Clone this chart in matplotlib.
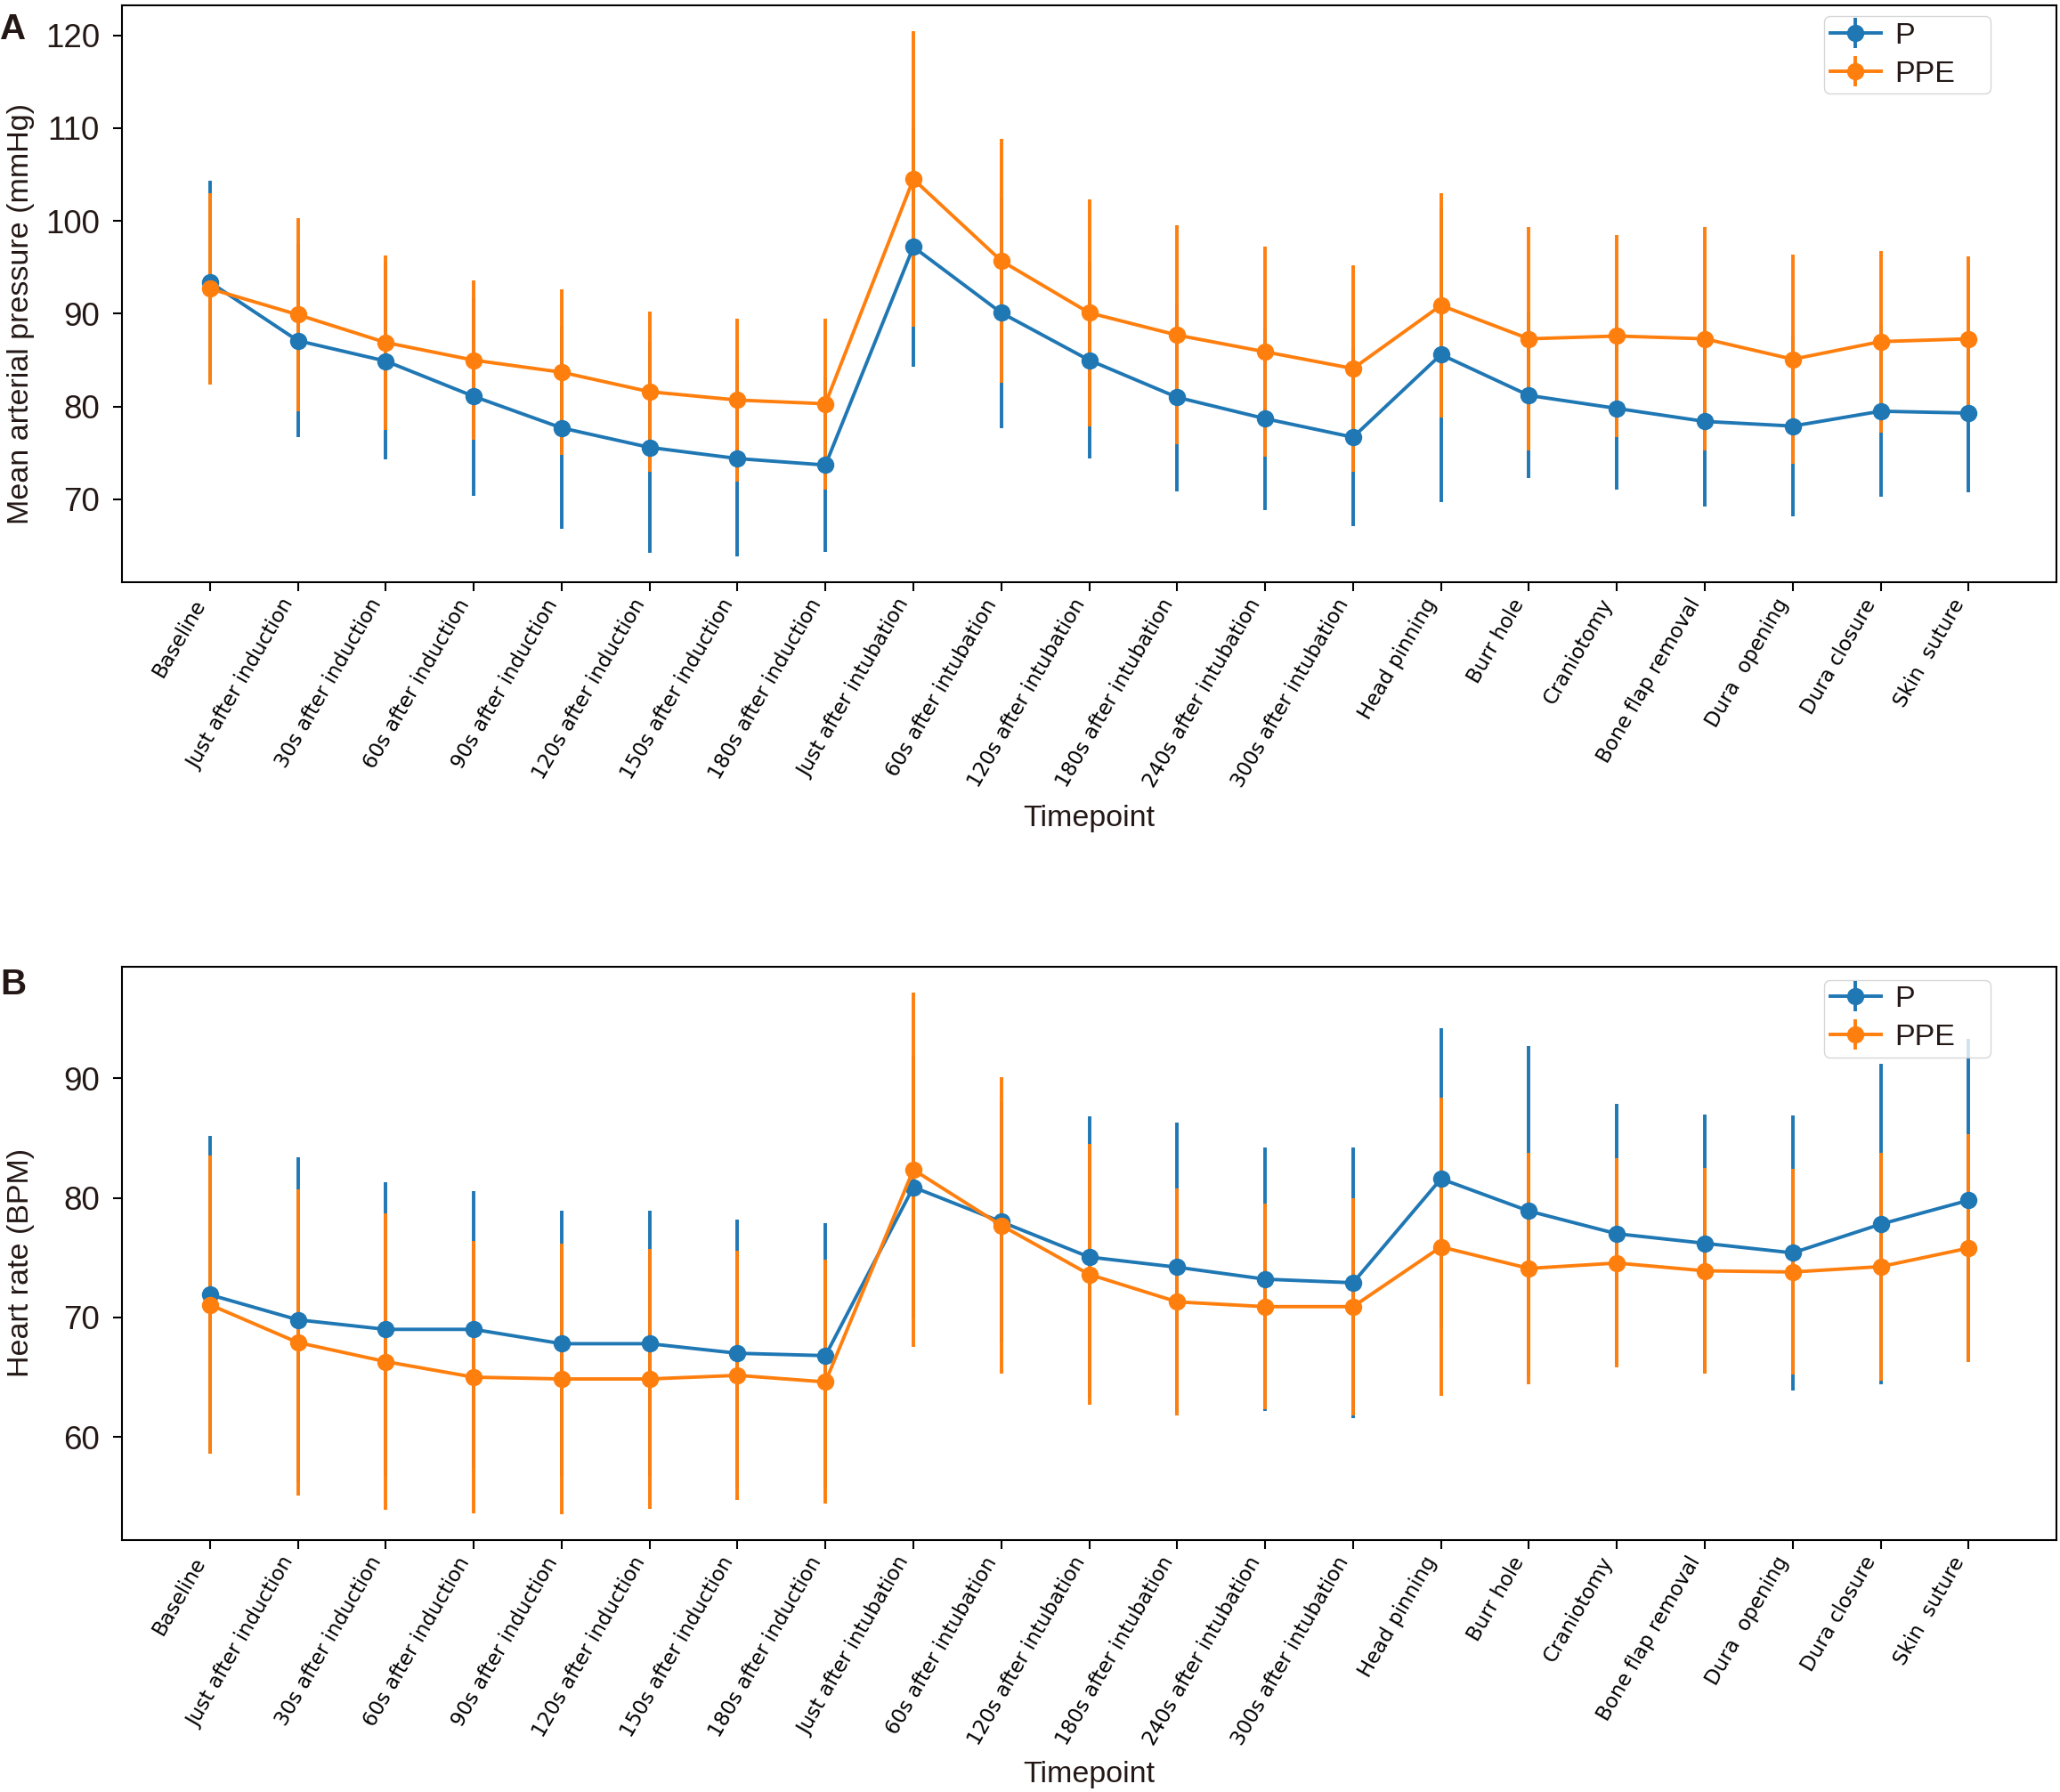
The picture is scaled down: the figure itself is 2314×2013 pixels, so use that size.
import matplotlib.pyplot as plt
import numpy as np

timepoints = ["Baseline", "Just after induction", "30s after induction", "60s after induction",
              "90s after induction", "120s after induction", "150s after induction",
              "180s after induction", "Just after intubation", "60s after intubation",
              "120s after intubation", "180s after intubation", "240s after intubation",
              "300s after intubation", "Head pinning", "Burr hole", "Craniotomy",
              "Bone flap removal", "Dura  opening", "Dura closure", "Skin  suture"]

# mean arterial pressure (mmHg), mean and SD
map_p = [93.4, 87.1, 84.9, 81.1, 77.7, 75.6, 74.4, 73.7, 97.2, 90.1, 85.0,
         81.0, 78.7, 76.7, 85.6, 81.2, 79.8, 78.4, 77.9, 79.5, 79.3]
map_p_sd = [10.9, 10.4, 10.6, 10.7, 10.9, 11.4, 10.5, 9.4, 12.9, 12.4, 10.6,
            10.1, 9.9, 9.6, 15.9, 8.9, 8.7, 9.2, 9.7, 9.2, 8.5]
map_ppe = [92.7, 89.9, 86.9, 85.0, 83.7, 81.6, 80.7, 80.3, 104.5, 95.7, 90.1,
           87.7, 85.9, 84.1, 90.9, 87.3, 87.6, 87.3, 85.1, 87.0, 87.3]
map_ppe_sd = [10.3, 10.4, 9.4, 8.6, 8.9, 8.6, 8.8, 9.2, 15.9, 13.1, 12.2,
              11.8, 11.3, 11.1, 12.1, 12.0, 10.9, 12.0, 11.3, 9.8, 8.9]

# heart rate (BPM), mean and SD
hr_p = [71.9, 69.8, 69.0, 69.0, 67.8, 67.8, 67.0, 66.8, 80.9, 78.0, 75.05,
        74.2, 73.2, 72.9, 81.6, 78.9, 77.0, 76.2, 75.4, 77.8, 79.8]
hr_p_sd = [13.3, 13.6, 12.3, 11.6, 11.1, 11.1, 11.2, 11.1, 11.0, 10.0, 11.75,
           12.1, 11.0, 11.3, 12.6, 13.8, 10.9, 10.8, 11.5, 13.4, 13.5]
hr_ppe = [71.06, 67.9, 66.3, 65.0, 64.85, 64.85, 65.15, 64.6, 82.36, 77.7, 73.6,
          71.3, 70.9, 70.9, 75.9, 74.1, 74.55, 73.9, 73.8, 74.25, 75.8]
hr_ppe_sd = [12.5, 12.8, 12.4, 11.4, 11.3, 10.9, 10.4, 10.2, 14.8, 12.4, 10.9,
             9.5, 8.6, 9.1, 12.5, 9.7, 8.75, 8.6, 8.6, 9.55, 9.5]

txt = '#231815'
lab_font = 'Liberation Sans'
fs = 24.5

fig = plt.figure(figsize=(23.14, 20.13), dpi=100)
ax_a = fig.add_axes([0.0592, 0.6751, 0.9391, 0.3219])
ax_b = fig.add_axes([0.0592, 0.1406, 0.9391, 0.3199])

panels = [
    (ax_a, map_p, map_p_sd, map_ppe, map_ppe_sd, "Mean arterial pressure (mmHg)", 0.466, "A", 0.993, 0.845),
    (ax_b, hr_p, hr_p_sd, hr_ppe, hr_ppe_sd, "Heart rate (BPM)", 0.484, "B", 0.460, 0.841),
]

x = np.arange(len(timepoints))
for ax, p, p_sd, ppe, ppe_sd, ylab, ly, letter, ty, leg_y in panels:
    ax.errorbar(x, p, yerr=p_sd, fmt='-o', color='#1f77b4', lw=2.8, ms=13,
                elinewidth=2.8, label='P')
    ax.errorbar(x, ppe, yerr=ppe_sd, fmt='-o', color='#ff7f0e', lw=2.8, ms=13,
                elinewidth=2.8, label='PPE')
    ax.set_xticks(x)
    ax.set_xticklabels(timepoints, rotation=60, ha='right', fontsize=16.5,
                       family='DejaVu Sans', color='black')
    ax.tick_params(axis='y', labelsize=26.5, labelcolor=txt, pad=11)
    for lbl in ax.get_yticklabels():
        lbl.set_family(lab_font)
    ax.tick_params(length=7, width=1.5)
    for s in ax.spines.values():
        s.set_linewidth(1.5)
    ax.set_ylabel(ylab, fontsize=fs, color=txt, family=lab_font)
    ax.yaxis.set_label_coords(-0.052, ly)
    ax.yaxis.label.set_va('center')
    ax.set_xlabel("Timepoint", fontsize=fs, color=txt, family=lab_font)
    ax.xaxis.set_label_coords(0.5, -0.41)
    ax.xaxis.label.set_va('center')
    leg = ax.legend(loc='upper left', bbox_to_anchor=(0.8799, leg_y, 0.0861, 0.136),
                    mode='expand', borderaxespad=0,
                    prop={'family': lab_font, 'size': fs}, labelspacing=0.35,
                    borderpad=0.19, handletextpad=0.45, handlelength=1.7)
    for t in leg.get_texts():
        t.set_color(txt)
    fig.text(0.0, ty, letter, fontsize=29, fontweight='bold', color=txt,
             family=lab_font, va='top', ha='left')

plt.savefig('out.png', dpi=100)
